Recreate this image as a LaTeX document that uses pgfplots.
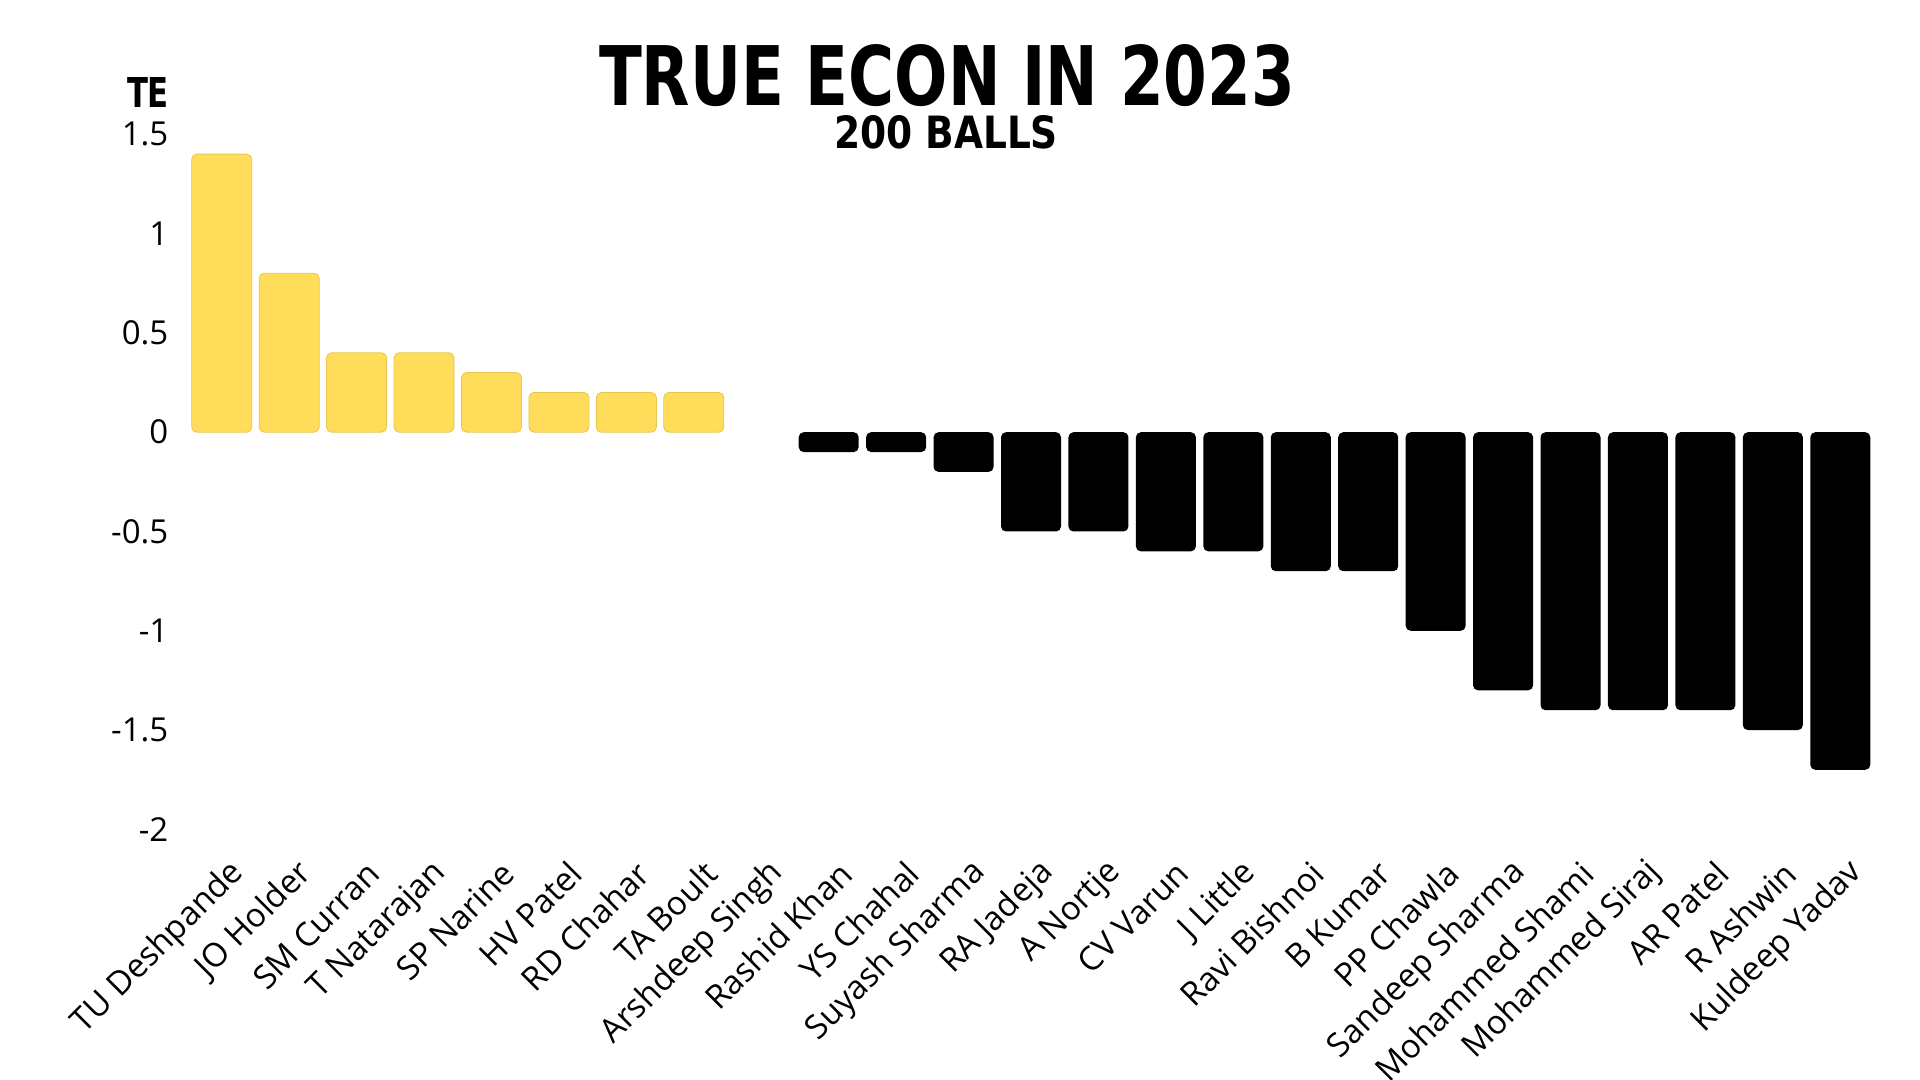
\documentclass[border=0pt]{standalone}
\usepackage{pgfplots}
\pgfplotsset{compat=1.18}
\usepackage{graphicx}
\usepackage{fontspec}
\setmainfont{Open Sans}
\newfontfamily\titlefont{DejaVu Sans}
\definecolor{ybar}{HTML}{FFDD5A}
\definecolor{yedge}{HTML}{E6C64C}
\begin{document}
\begin{tikzpicture}
\path[use as bounding box] (0,0) rectangle (960pt,540pt);
\node[anchor=south, inner sep=0pt] at (473.5pt,486.5pt) {\resizebox{348pt}{30.5pt}{\titlefont\bfseries TRUE ECON IN 2023}};
\node[anchor=south, inner sep=0pt] at (473pt,465pt) {\resizebox{112pt}{16.5pt}{\titlefont\bfseries 200 BALLS}};
\node[anchor=south, inner sep=0pt] at (74pt,486pt) {\resizebox{21pt}{15pt}{\titlefont\bfseries TE}};
\begin{axis}[
  at={(94pt,125.3pt)}, anchor=south west,
  scale only axis, width=843pt, height=347.55pt,
  xmin=-0.5, xmax=24.5, ymin=-2, ymax=1.5,
  axis line style={draw=none}, tick style={draw=none},
  xtick={0,...,24},
  xticklabels={TU Deshpande,JO Holder,SM Curran,T Natarajan,SP Narine,HV Patel,RD Chahar,TA Boult,Arshdeep Singh,Rashid Khan,YS Chahal,Suyash Sharma,RA Jadeja,A Nortje,CV Varun,J Little,Ravi Bishnoi,B Kumar,PP Chawla,Sandeep Sharma,Mohammed Shami,Mohammed Siraj,AR Patel,R Ashwin,Kuldeep Yadav},
  ytick={-2,-1.5,-1,-0.5,0,0.5,1,1.5},
  yticklabels={-2,-1.5,-1,-0.5,0,0.5,1,1.5},
  x tick label style={font=\fontsize{16.5}{19}\selectfont, xshift=11pt, yshift=-12.5pt, rotate=45, anchor=east},
  y tick label style={font=\fontsize{16.5}{19}\selectfont, xshift=-6.3pt},
  ybar, bar width=0.89, bar shift=0pt,
  clip=false,
]
\addplot[fill=ybar, draw=yedge, line width=0.4pt, rounded corners=2.5pt] coordinates {
(0,1.4) (1,0.8) (2,0.4) (3,0.4) (4,0.3) (5,0.2) (6,0.2) (7,0.2)};
\addplot[draw=none, fill=none] coordinates {(8,0)};
\addplot[fill=black, draw=none, rounded corners=2.5pt] coordinates {
(9,-0.1) (10,-0.1) (11,-0.2) (12,-0.5) (13,-0.5) (14,-0.6) (15,-0.6) (16,-0.7) (17,-0.7) (18,-1.0) (19,-1.3) (20,-1.4) (21,-1.4) (22,-1.4) (23,-1.5) (24,-1.7)};
\end{axis}
\end{tikzpicture}
\end{document}
